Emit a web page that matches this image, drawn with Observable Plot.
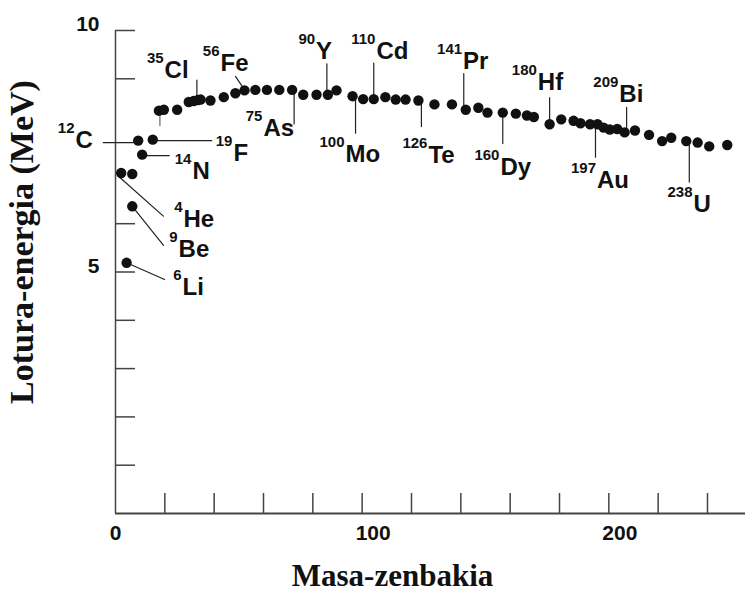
<!DOCTYPE html>
<html><head><meta charset="utf-8">
<script src="https://cdn.jsdelivr.net/npm/d3@7"></script>
<script src="https://cdn.jsdelivr.net/npm/@observablehq/plot@0.6"></script>
<style>body{margin:0;background:#fff}</style>
</head><body><div id="chart"></div>
<script>
// ---- data ----
const massNumber = [2.3, 6.8, 4.5, 6.8, 9.2, 10.8, 15.1, 17.6, 19.6, 25.0, 29.7, 31.7, 33.4, 34.5, 38.5, 43.9, 48.6, 52.3, 56.7, 61.4, 66.4, 71.6, 76.1, 81.5, 86.1, 89.6, 96.1, 100.4, 104.7, 109.4, 113.6, 117.6, 122.8, 129.3, 136.4, 142.0, 147.1, 150.8, 157.0, 162.3, 166.8, 169.6, 176.0, 180.7, 185.7, 188.5, 192.4, 195.4, 197.9, 200.4, 203.4, 206.4, 210.6, 216.3, 221.6, 225.3, 231.4, 236.0, 240.7, 248.0];
const bindingEnergy = [7.05, 7.03, 5.19, 6.36, 7.72, 7.43, 7.74, 8.34, 8.36, 8.36, 8.52, 8.54, 8.56, 8.57, 8.55, 8.62, 8.70, 8.76, 8.77, 8.77, 8.77, 8.77, 8.67, 8.67, 8.67, 8.76, 8.64, 8.58, 8.58, 8.62, 8.57, 8.57, 8.55, 8.47, 8.47, 8.36, 8.40, 8.30, 8.30, 8.28, 8.24, 8.21, 8.06, 8.16, 8.13, 8.08, 8.06, 8.06, 7.99, 7.95, 7.96, 7.89, 7.93, 7.84, 7.71, 7.78, 7.71, 7.68, 7.60, 7.63];

const labelMass   = [12, 14, 19, 4, 9, 6, 35, 56, 75, 90, 100, 110, 126, 141, 160, 180, 197, 209, 238];
const labelSymbol = ["C", "N", "F", "He", "Be", "Li", "Cl", "Fe", "As", "Y", "Mo", "Cd", "Te", "Pr", "Dy", "Hf", "Au", "Bi", "U"];
const labelDot    = [4, 5, 6, 0, 3, 2, 12, 17, 21, 24, 26, 28, 32, 35, 38, 42, 47, 51, 56];
const extraLeaderDot = [7];

const xTicks = [20, 40, 60, 80, 100, 120, 140, 160, 180, 200, 220, 240];
const xTickLabelsA = [0];
const xTickLabelsB = [100, 200];
const yTicks = [1, 2, 3, 4, 5, 6, 9, 10];
const yTickLabels = [5, 10];
const xTitle = "Masa-zenbakia";
const yTitle = "Lotura-energia (MeV)";

// ---- layout (pixel offsets, styling only) ----
const labelOffset = [[-62.7,7],[50.3,24],[80.7,21],[62.3,54.3],[46.3,51],[56,31.7],[-33.3,-21.7],[-24,-19],[-28.7,45.7],[-11.8,-35.3],[-7,66.3],[2.7,-39.7],[10,62],[-2.7,-41],[-2.3,62],[-11.8,-34.5],[-0.5,63.4],[-5.3,-30.7],[7.2,71.3]];
const leaderStyle = [[-90,35,0,2],[90,27,0,1],[90,59,0,1],[131.6,60,-2.7,3.3],[141.3,50,0,0],[113.7,41.5,0,0],[0,20,-1,0],[-34,12,-2.3,-4],[180,34,2,0],[0,31,-1,0],[180,37,3,0],[0,36,0,0],[180,26,3,0],[0,36,-2,0],[180,31,0,0],[0,26.5,0,0],[180,33,-2,0],[0,25,2,0],[180,41,3,0]];
const extraLeaderStyle = [[180,15,1,0]];

const points = massNumber.map((a, i) => ({A: a, E: bindingEnergy[i]}));
const lineShape = {draw(context, l) { context.moveTo(0, 0); context.lineTo(0, -l); }};
const SANS = "Liberation Sans, Arial, sans-serif";
const SERIF = "Liberation Serif, Times New Roman, serif";
const ink = "#111";
const axisInk = "#444";

const labelMarks = [];
labelDot.forEach((di, k) => {
  const p = points[di];
  const [ox, oy] = labelOffset[k];
  const [rot, len, ldx, ldy] = leaderStyle[k];
  labelMarks.push(Plot.vector([p], {x: "A", y: "E", rotate: rot, length: len, anchor: "start", shape: lineShape, dx: ldx, dy: ldy, stroke: "#222", strokeWidth: 1.2}));
  labelMarks.push(Plot.text([p], {x: "A", y: "E", text: () => String(labelMass[k]), dx: ox - 1, dy: oy - 15, textAnchor: "end", lineAnchor: "bottom", fontSize: 15, fontWeight: "bold", fontFamily: SANS, fill: ink}));
  labelMarks.push(Plot.text([p], {x: "A", y: "E", text: () => labelSymbol[k], dx: ox, dy: oy, textAnchor: "start", lineAnchor: "bottom", fontSize: 24, fontWeight: "bold", fontFamily: SANS, fill: ink}));
});
extraLeaderDot.forEach((di, k) => {
  const [rot, len, ldx, ldy] = extraLeaderStyle[k];
  labelMarks.push(Plot.vector([points[di]], {x: "A", y: "E", rotate: rot, length: len, anchor: "start", shape: lineShape, dx: ldx, dy: ldy, stroke: "#666", strokeWidth: 1.2}));
});

const chart = Plot.plot({
  width: 749, height: 592,
  marginLeft: 115, marginRight: 42, marginTop: 30, marginBottom: 79,
  x: {domain: [0, 240]},
  y: {domain: [0, 10]},
  style: {fontFamily: SANS, background: "white", color: ink},
  marks: [
    Plot.ruleY([0], {stroke: axisInk, strokeWidth: 2, insetRight: -38}),
    Plot.ruleX([0], {stroke: axisInk, strokeWidth: 1.5}),
    Plot.axisX({ticks: xTicks, tickSize: 20, dy: -20, fill: "none", stroke: axisInk, strokeWidth: 1.5, label: null}),
    Plot.axisY({ticks: yTicks, tickSize: 20, dx: 20, fill: "none", stroke: axisInk, strokeWidth: 1.5, label: null}),
    Plot.axisX({ticks: xTickLabelsA, tickSize: 0, tickPadding: 12, fontSize: 21, fontWeight: "bold", fontFamily: SANS, label: null}),
    Plot.axisX({ticks: xTickLabelsB, tickSize: 0, tickPadding: 12, dx: 11, fontSize: 21, fontWeight: "bold", fontFamily: SANS, label: null}),
    Plot.axisY({ticks: yTickLabels, tickSize: 0, tickPadding: 16, dy: -6, fontSize: 21, fontWeight: "bold", fontFamily: SANS, label: null}),
    Plot.text([yTitle], {text: d => d, frameAnchor: "left", rotate: -90, dx: -83, dy: -30, textAnchor: "middle", lineAnchor: "bottom", fontSize: 34, fontWeight: "bold", fontFamily: SERIF, fill: ink}),
    Plot.text([xTitle], {text: d => d, frameAnchor: "bottom", dx: -19, dy: 72, textAnchor: "middle", lineAnchor: "bottom", fontSize: 31, fontWeight: "bold", fontFamily: SERIF, fill: ink}),
    ...labelMarks,
    Plot.dot(points, {x: "A", y: "E", r: 5.2, fill: ink, stroke: "none"})
  ]
});
document.getElementById("chart").appendChild(chart);
</script>
</body></html>
